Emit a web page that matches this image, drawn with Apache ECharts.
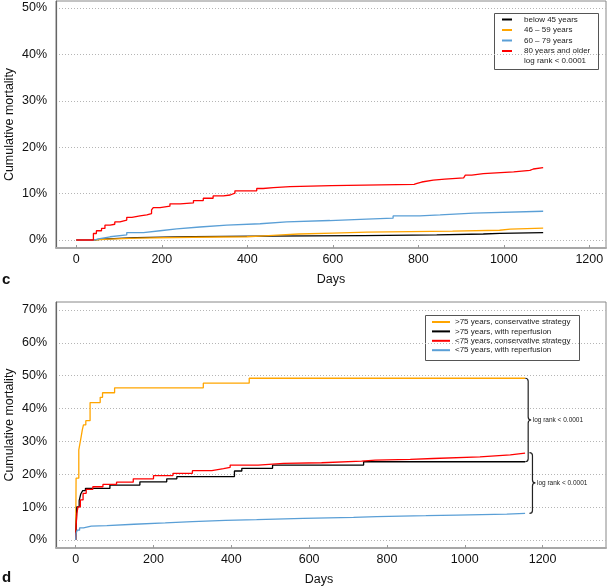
<!DOCTYPE html>
<html>
<head>
<meta charset="utf-8">
<script src="https://cdn.jsdelivr.net/npm/echarts@6/dist/echarts.min.js"></script>
<style>html,body{margin:0;padding:0;background:#fff}#c{width:609px;height:587px}</style>
</head>
<body>
<div id="c"></div>
<script>
// ---------- data ----------
const xTicks = [0, 200, 400, 600, 800, 1000, 1200];
const yTicksTop = [0, 10, 20, 30, 40, 50];
const yTicksBottom = [0, 10, 20, 30, 40, 50, 60, 70];

// panel c: [day, cumulative mortality %]
const cNamesTop = ['below 45 years', '46 \u2013 59 years', '60 \u2013 79 years', '80 years and older'];
const cBelow45 = [[0,0],[40,0.2],[60,0.5],[141,0.75],[273,0.85],[430,0.95],[671,1.1],[843,1.3],[952,1.45],[991,1.6],[1092,1.6]];
const c46to59 = [[0,0],[36,0.2],[75,0.4],[141,0.6],[273,0.7],[399,0.9],[440,1.1],[480,1.3],[520,1.5],[600,1.7],[680,1.9],[880,2.1],[990,2.35],[1015,2.55],[1092,2.55]];
const c60to79 = [[0,0],[40,0.3],[55,0.7],[79,1.1],[118,1.6],[157,2.0],[196,2.4],[235,2.8],[289,3.2],[352,3.5],[430,3.9],[492,4.2],[593,4.5],[679,4.7],[741,5.2],[803,5.4],[851,5.8],[929,6.2],[1092,6.3]];
const c80plus = [[0,0],[40,1.4],[47,2.0],[59,2.5],[67,3.2],[79,3.4],[90,3.9],[102,4.3],[118,4.9],[130,5.2],[149,5.4],[165,5.7],[176,6.5],[180,7.0],[196,7.3],[219,7.8],[243,8.0],[274,8.5],[297,9.0],[320,9.5],[344,9.7],[360,10.1],[371,10.6],[422,11.1],[437,11.3],[461,11.5],[500,11.7],[597,12.0],[790,12.2],[797,12.5],[808,12.9],[835,13.1],[862,13.4],[906,13.6],[910,14.0],[925,14.3],[952,14.7],[1023,15.0],[1061,15.3],[1069,15.6],[1092,15.6]];
const cLogRank = 'log rank < 0.0001';

// panel d
const dNames = ['>75 years, conservative strategy', '>75 years, with reperfusion', '<75 years, conservative strategy', '<75 years, with reperfusion'];
const dOldCons = [[0,0],[1,18.8],[8,27.4],[11,29.4],[14,31.4],[17,33.5],[20,35.0],[26,36.3],[37,41.8],[63,43.4],[69,44.8],[100,46.3],[328,47.7],[446,49.2],[1155,49.2]];
const dOldReperf = [[0,0],[3,10.1],[9,12.0],[13,14.0],[18,15.0],[25,15.7],[88,16.7],[165,17.7],[234,18.6],[260,19.3],[408,21.0],[427,21.8],[506,22.8],[740,23.8],[1155,23.8]];
const dYoungCons = [[0,0],[1,4.0],[3,8.1],[6,10.1],[12,12.2],[19,14.2],[27,15.4],[44,16.2],[70,16.9],[105,17.6],[148,18.6],[200,19.6],[250,20.3],[300,21.1],[350,21.7],[380,22.1],[397,22.8],[469,23.3],[534,23.5],[632,24.0],[735,24.3],[770,24.5],[860,24.8],[919,25.3],[1039,25.9],[1117,26.4],[1155,26.6]];
const dYoungReperf = [[0,0],[1,2.0],[4,3.0],[10,3.7],[20,4.2],[40,4.4],[80,4.8],[150,5.2],[230,5.6],[300,6.0],[385,6.2],[465,6.6],[585,6.9],[714,7.1],[774,7.4],[900,7.6],[980,7.9],[1108,8.1],[1155,8.2]];
// brackets: [day, top %, bottom %]
const bracketSpans = [[1163, 49.2, 23.8], [1174, 26.6, 8.1]];
const bracketLabels = ['log rank < 0.0001', 'log rank < 0.0001'];

// ---------- styles ----------
const FONT = '"Liberation Sans", Arial, Helvetica, sans-serif';
const COL = { black: '#000000', orange: '#FFA500', blue: '#5a9fd6', red: '#FF0000' };

function lineSeries(name, data, color, gi) {
  return {
    name, type: 'line', step: 'end', data, xAxisIndex: gi, yAxisIndex: gi,
    showSymbol: false, symbol: 'none', animation: false,
    lineStyle: { color, width: 1.3 }, itemStyle: { color }
  };
}
function xAxisCfg(gi, min, max, namePad) {
  return {
    type: 'value', gridIndex: gi, min, max,
    name: 'Days', nameLocation: 'middle', nameGap: 25, nameMoveOverlap: false,
    nameTextStyle: { fontSize: 12.5, color: '#111', fontFamily: FONT, padding: namePad },
    axisLine: { show: true, onZero: false, lineStyle: { color: '#a8a8a8', width: 2 } },
    axisTick: { show: true, inside: true, length: 3, lineStyle: { color: '#999' }, customValues: xTicks },
    axisLabel: { fontSize: 12.5, color: '#111', fontFamily: FONT, margin: 5, customValues: xTicks, formatter: v => String(v) },
    splitLine: { show: false }
  };
}
function yAxisCfg(gi, min, max, ticks) {
  return {
    type: 'value', gridIndex: gi, min, max,
    name: 'Cumulative mortality', nameLocation: 'middle', nameGap: 40, nameRotate: 90, nameMoveOverlap: false,
    nameTextStyle: { fontSize: 12.5, color: '#111', fontFamily: FONT },
    axisLine: { show: true, onZero: false, lineStyle: { color: '#666', width: 1.2 } },
    axisTick: { show: false, customValues: ticks },
    axisLabel: { fontSize: 12.5, color: '#111', fontFamily: FONT, margin: 9, formatter: v => v + '%', customValues: ticks },
    splitLine: { show: true, lineStyle: { color: '#b5b5b5', type: [1, 2], width: 1 } }
  };
}

const option = {
  animation: false,
  backgroundColor: '#fff',
  textStyle: { fontFamily: FONT },
  grid: [
    { left: 56, right: 3, top: 1, height: 247, show: true, borderColor: '#888', borderWidth: 1, containLabel: false, outerBoundsMode: 'none' },
    { left: 56, right: 3, top: 302, height: 246, show: true, borderColor: '#888', borderWidth: 1, containLabel: false, outerBoundsMode: 'none' }
  ],
  xAxis: [xAxisCfg(0, -47.5, 1239, [0, 0, 0, 0]), xAxisCfg(1, -50.6, 1363, [0, 24, 0, 0])],
  yAxis: [yAxisCfg(0, -1.72, 51.5, yTicksTop), yAxisCfg(1, -2.43, 72.4, yTicksBottom)],
  legend: [
    {
      data: cNamesTop, orient: 'vertical', left: 502, top: 14.25, padding: 0, itemGap: 0,
      itemWidth: 10, itemHeight: 2, icon: 'rect', selectedMode: false,
      textStyle: { fontSize: 8, lineHeight: 10.5, color: '#222', fontFamily: FONT, padding: [0, 0, 0, 7] }
    },
    {
      data: dNames, orient: 'vertical', left: 432, top: 317.3, padding: 0, itemGap: 0,
      itemWidth: 18, itemHeight: 2, icon: 'rect', selectedMode: false,
      textStyle: { fontSize: 8, lineHeight: 9.4, color: '#222', fontFamily: FONT, padding: [0, 0, 0, 0] }
    }
  ],
  graphic: [
    { type: 'rect', left: 494, top: 13, z: 0, shape: { width: 104, height: 56 }, style: { fill: '#fff', stroke: '#555', lineWidth: 1 } },
    { type: 'text', left: 524, top: 57, style: { text: cLogRank, fontSize: 8, fill: '#222', fontFamily: FONT } },
    { type: 'rect', left: 425, top: 315, z: 0, shape: { width: 154, height: 45 }, style: { fill: '#fff', stroke: '#555', lineWidth: 1 } },
    { type: 'text', left: 2, top: 272, style: { text: 'c', fontSize: 15, fontWeight: 'bold', fill: '#111', fontFamily: FONT } },
    { type: 'text', left: 2, top: 570, style: { text: 'd', fontSize: 15, fontWeight: 'bold', fill: '#111', fontFamily: FONT } }
  ],
  series: [
    lineSeries(cNamesTop[0], cBelow45, COL.black, 0),
    lineSeries(cNamesTop[1], c46to59, COL.orange, 0),
    lineSeries(cNamesTop[2], c60to79, COL.blue, 0),
    lineSeries(cNamesTop[3], c80plus, COL.red, 0),
    lineSeries(dNames[0], dOldCons, COL.orange, 1),
    lineSeries(dNames[1], dOldReperf, COL.black, 1),
    lineSeries(dNames[2], dYoungCons, COL.red, 1),
    lineSeries(dNames[3], dYoungReperf, COL.blue, 1),
    {
      type: 'custom', xAxisIndex: 1, yAxisIndex: 1, data: bracketSpans, clip: false, silent: true,
      encode: { x: 0, y: [1, 2] },
      renderItem: function (params, api) {
        const x = api.value(0), t = api.value(1), b = api.value(2);
        const p1 = api.coord([x, t]), p2 = api.coord([x, b]);
        const X = p1[0], T = p1[1], B = p2[1], M = (T + B) / 2, h = 3;
        const d = 'M' + (X - h) + ',' + T + ' Q' + X + ',' + T + ' ' + X + ',' + (T + h) +
          ' L' + X + ',' + (M - h) + ' Q' + X + ',' + M + ' ' + (X + h) + ',' + M +
          ' Q' + X + ',' + M + ' ' + X + ',' + (M + h) + ' L' + X + ',' + (B - h) +
          ' Q' + X + ',' + B + ' ' + (X - h) + ',' + B;
        return {
          type: 'group', children: [
            { type: 'path', shape: { pathData: d, x: X - h, y: T, width: 2 * h, height: B - T, layout: 'cover' },
              style: { fill: null, stroke: '#222', lineWidth: 1.2 } },
            { type: 'text', style: { text: bracketLabels[params.dataIndex], x: X + h + 1.5, y: M, verticalAlign: 'middle', align: 'left', fontSize: 6.5, fill: '#222', fontFamily: FONT } }
          ]
        };
      }
    }
  ]
};
const chart = echarts.init(document.getElementById('c'), null, { renderer: 'canvas' });
chart.setOption(option);
</script>
</body>
</html>
